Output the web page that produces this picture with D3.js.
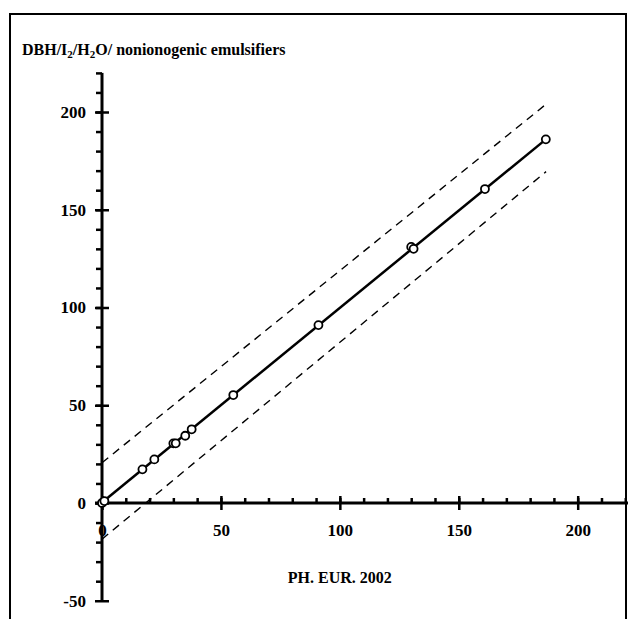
<!DOCTYPE html>
<html>
<head>
<meta charset="utf-8">
<script src="https://cdn.jsdelivr.net/npm/d3@7"></script>
<style>
body { margin: 0; background: #fff; }
svg text { font-family: "Liberation Serif", "Times New Roman", serif; font-weight: bold; fill: #000; }
</style>
</head>
<body>
<div id="vis_container"></div>
<script>
// measured points (PH. EUR. 2002 vs DBH/I2/H2O)
var ph_eur = [0, 1, 17, 22, 30, 31, 35, 37.7, 55.2, 91, 130, 131, 161, 186.6];
var dbh    = [0, 1, 17.2, 22.3, 30.5, 30.5, 34.4, 37.7, 55.2, 91, 131, 130, 160.6, 186];

// regression line and confidence band ends
var fit_x = [0, 186.6];
var fit_y = [0.3, 186];
var upper_x = [0, 186.7];
var upper_y = [20.6, 204];
var lower_x = [0, 186.7];
var lower_y = [-18.5, 169.5];

var x_major = [0, 50, 100, 150, 200];
var y_major = [-50, 0, 50, 100, 150, 200];
var x_minor = d3.range(10, 230, 10);
var y_minor = d3.range(-40, 230, 10);

var width = 628;
var height = 619;

var x = d3.scaleLinear().domain([0, 200]).range([102, 577.7]);
var y = d3.scaleLinear().domain([0, 200]).range([503, 112]);

var svg = d3.select("#vis_container")
    .append("svg")
    .attr("width", width)
    .attr("height", height);

// frame
svg.append("rect")
    .attr("x", 10).attr("y", 14)
    .attr("width", 616).attr("height", 700)
    .style("fill", "none").style("stroke", "#000").style("stroke-width", 2);

// title with subscripts
var title = svg.append("text").attr("x", 22).attr("y", 55).style("font-size", "16px");
title.append("tspan").text("DBH/I");
title.append("tspan").attr("dy", 3).style("font-size", "11px").text("2");
title.append("tspan").attr("dy", -3).text("/H");
title.append("tspan").attr("dy", 3).style("font-size", "11px").text("2");
title.append("tspan").attr("dy", -3).text("O/ nonionogenic emulsifiers");

function blackLines(g) {
    g.select(".domain").remove();
    g.selectAll("line").style("stroke", "#000").style("stroke-width", "2.5px");
}

// y axis
var gy = svg.append("g").attr("transform", "translate(" + x(0) + ",0)");
gy.append("g")
    .call(d3.axisLeft(y).tickValues(y_minor).tickSize(6).tickFormat(""))
    .call(blackLines);
gy.append("g")
    .call(d3.axisLeft(y).tickValues(y_major).tickSize(7).tickPadding(9).tickFormat(String))
    .call(blackLines)
    .call(function(g) { g.selectAll("line").attr("x1", 7); });
gy.append("rect")
    .attr("x", -1.5).attr("width", 3)
    .attr("y", y(220)).attr("height", y(-50) - y(220))
    .style("fill", "#000");

// x axis
var gx = svg.append("g").attr("transform", "translate(0," + y(0) + ")");
gx.append("g")
    .call(d3.axisTop(x).tickValues(x_minor).tickSize(5).tickFormat(""))
    .call(blackLines);
gx.append("g")
    .call(d3.axisBottom(x).tickValues(x_major).tickSize(7).tickPadding(14).tickFormat(String))
    .call(blackLines)
    .call(function(g) { g.selectAll("line").attr("y1", -7); });
gx.append("rect")
    .attr("x", 95).attr("width", width - 95)
    .attr("y", -1.5).attr("height", 3)
    .style("fill", "#000");

svg.selectAll(".tick text")
    .attr("font-size", null).attr("font-family", null)
    .style("font-size", "17px")
    .style("font-weight", "bold")
    .style("fill", "#000");

svg.append("text")
    .attr("x", x(100)).attr("y", 583)
    .style("text-anchor", "middle").style("font-size", "16px")
    .text("PH. EUR. 2002");

var line = d3.line()
    .x(function(d) { return x(d[0]); })
    .y(function(d) { return y(d[1]); });

function pairs(a, b) { return a.map(function(v, i) { return [v, b[i]]; }); }

svg.append("path").datum(pairs(upper_x, upper_y)).attr("d", line)
    .style("fill", "none").style("stroke", "#000").style("stroke-width", 1.4)
    .style("stroke-dasharray", "8,6");
svg.append("path").datum(pairs(lower_x, lower_y)).attr("d", line)
    .style("fill", "none").style("stroke", "#000").style("stroke-width", 1.4)
    .style("stroke-dasharray", "8,6");
svg.append("path").datum(pairs(fit_x, fit_y)).attr("d", line)
    .style("fill", "none").style("stroke", "#000").style("stroke-width", 2.5);

svg.selectAll(".pt").data(pairs(ph_eur, dbh))
    .enter().append("circle")
    .attr("class", "pt")
    .attr("r", 4)
    .attr("cx", function(d) { return x(d[0]); })
    .attr("cy", function(d) { return y(d[1]); })
    .style("fill", "#fff").style("stroke", "#000").style("stroke-width", 1.8);
</script>
</body>
</html>
